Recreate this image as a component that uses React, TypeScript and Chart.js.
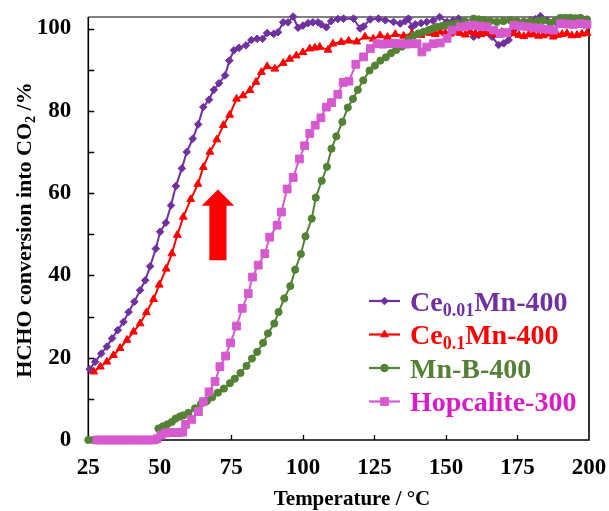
import React, { useEffect, useRef } from 'react';
import { Chart, registerables } from 'chart.js';
import { drawPoint } from 'chart.js/helpers';

Chart.register(...registerables);

// ---------------- data ----------------
const ce001T = [25.5,27.4,29.5,31.5,33.3,35.3,37.3,39.1,41.1,43.1, 44.9,46.6,48.6,50.1,52.1,53.9,55.6,57.7,59.4,61.5, 63.4,65.2,67.2,68.9,70.7,72.8,74.3,75.9,77.7,80.1, 82,84,85.9,87.5,89.8,91.3,93.1,94.8,96.6,98.3, 100,101.8,103.5,105.3,106.4,108.2,109.9,112.2,114.2,117.7, 120,121.2,123.5,126.4,128.8,131.7,134,135.8,136.9,138.1, 139.3,141.3,143.3,145.5,147.8,150.4,152.4,154.4,156.2,159.7, 161.5,163.2,166.1,168.4,170.2,171.9,173.7,176.6,179.5,181.3, 183,185.3,188.8,192.3,195.8,199.3];
const ce001V = [17.2,19,21,22.7,24.7,26.7,28.7,31.1,33.6,36.4, 38.8,42.2,46.5,50.6,52.8,57,61.7,66,70,73.2, 76.7,80.9,82.7,85.1,86.7,88.6,92.2,94.7,95.3,95.9, 97.2,97.5,97.5,98.9,98.7,99.1,101.5,101.5,102.9,100.2, 100.7,101.3,101.5,101.5,101,100.3,101.8,102.3,102.4,102.4, 100,100.5,102.2,102.4,102,101.6,101.2,101.8,102.4,100.4, 101,101.3,101.6,101.9,102.8,101.6,101.9,102.4,100.8,98, 98.4,98.8,98,96,96.4,97.2,99.6,100.8,102,102.3, 103,102,101.2,101,101.2,100.8];

const ce01T = [26.9,29.2,31.5,33.8,36.1,38.5,40.8,43.1,45.3,47.8, 49.8,52.2,54.2,56.1,58.2,60.8,63.3,65.2,67.5,69.9, 72.2,74.4,76.8,79.1,81.5,83.6,85.5,87.5,90.2,93.1, 95.4,97.7,100,102.4,104.2,105.9,108.8,110.5,113.4,116, 118.8,121.7,124.6,127,129.6,132.3,135.2,138.1,141.3,144.5, 146.3,148,149.8,151.5,153.3,155,156.8,158.5,160.3,162, 163.8,165.5,167.5,169.5,171.6,173.7,175.5,177.2,178.9,180.6, 182.3,184,185.8,187.5,189,190.6,192.3,194,195.8,197.5, 199.3];
const ce01V = [16.6,17.8,19,20.6,22.3,24.3,26.3,28.3,31,34.2, 37.7,41.6,45.3,49.8,54.2,58.5,62.2,66.3,70,73, 76.5,79,82.9,83.7,85,87,89.4,90.8,90.2,91.6, 92.6,93.4,94.2,95.1,95.3,95.5,94.8,96.3,96.7,97, 96.8,98,97.5,98.3,97.9,98.6,98.2,98.8,98.4,98.9, 98.6,99.2,98.9,98.7,99.1,98.9,98.5,99.2,98.8,98.6, 99,98.8,98.5,99.1,98.6,98.8,98.4,98.1,98.5,98.6, 98.2,98.3,98.7,98,98.4,98.6,98.8,98.3,98.4,98.7, 98.9];

const mnbT = [25,26.7,28.4,30.1,31.8,33.5,35.2,36.9,38.6,40.3, 42,43.7,45.4,47.1,48.8,49.5,51,52.6,54.2,55.5, 57,58.2,60,62.3,64.4,66.5,68.3,70.3,72.4,74.5, 76.2,78.2,80.3,82.2,84,86.1,87.8,90,91.5,93.5, 95.6,97.3,99.3,100.9,103.1,104.5,106.6,108.4,110,111.7, 113.8,115.7,117.5,119.2,121.1,123.3,125.2,127.1,129,130.8, 132.6,134.6,136.9,138.7,140.4,142.2,143.9,145.4,146.8,148.6, 150.4,152.1,153.8,156.5,159.7,161.5,163.2,165.5,167.8,170.1, 172.5,174.8,177.2,179.5,181.9,184,186.5,188.3,190,191.8, 193.5,195.3,197,199.3];
const mnbV = [0,0,0,0,0,0,0,0,0,0, 0,0,0,0,0,2.8,3.3,3.8,4.4,5.2, 5.7,6,6.6,7.7,8.8,9.5,10.4,11.5,12.5,13.8, 14.9,16.3,18,19.8,21.4,23.6,25.9,28.3,31.1,34.4, 37.4,41.4,45.2,49.5,53.8,58.9,63,66.4,70.8,73.8, 77.3,80.8,82.9,85.1,87.4,89.8,91,92.2,93,94, 94.8,95.6,97.4,98.3,98.8,99.2,99.6,100,100.4,100.6, 100.8,101,101.3,101.8,102.4,102.2,102,101.8,101.6,101.8, 102,101.8,101.6,101.7,101.8,102,101.4,101.9,102.6,102.6, 102.6,102.5,102.6,102.2];

const hopT = [28,29.5,31,32.5,34,35.5,37,38.5,40,41.5,43,44.5,46,47.5, 49,50.5,52,53.5,55,56.5,58,59, 61.1,63.5,65.2,67.2,69.3,71,73,74.7,76.8,78.8, 80.9,82.4,84.4,86.7,88.4,91,92.5,94.5,96.6,98.8, 100.6,102.4,104.3,106.3,108.2,110,112.2,114.1,116.1,118.5, 121.2,123.6,125.9,128,130,132,134,136,138,139.9, 141.6,143.3,145.6,148,150.4,152.1,155,157.4,159.7,162, 164.3,166.7,169,171.3,173.7,176,178.4,180.7,183,185.4, 187.7,190,192.3,194.6,197,199.3];
const hopV = [0,0,0,0,0,0,0,0,0,0,0,0,0,0, 0.3,1.2,1.7,1.8,1.8,1.8,1.9,3.8, 5,6.9,9.3,11.7,14.2,17.8,20.4,23.6,27.7,32, 35.6,39.6,42.5,45.3,49.3,52.2,55.4,61,63.8,68.3, 71.5,74.5,76.5,78.3,80.9,82,84,86.9,87.2,91.3, 93.1,95.1,96.3,96.2,96.3,96.4,96.3,96.2,96.3,96.3, 94.3,95.5,96.3,96.5,97.6,99.6,100.4,100.6,100.8,100.6, 100.4,99.6,98.8,99,100.8,100.6,100.4,100.2,100,99.8, 99.6,101.2,101.1,101,101.2,101];

const xTickValues = [25, 50, 75, 100, 125, 150, 175, 200];
const yTickValues = [0, 20, 40, 60, 80, 100];
const yMinorTickValues = [0, 10, 20, 30, 40, 50, 60, 70, 80, 90, 100];
const yMin = 0;
const yMax = 102.8;
const xMin = 25;
const xMax = 200;

// arrow in data units
const arrowX = 70.3;
const arrowTipY = 60.9;
const arrowHeadBaseY = 56.9;
const arrowBottomY = 43.7;
const arrowHeadHalf = 5.7;
const arrowBodyHalf = 3.0;

const xTitle = 'Temperature / °C';
const yTitleParts = [
  { t: 'HCHO conversion into CO', sub: false },
  { t: '2', sub: true },
  { t: ' /%', sub: false },
];

const legendEntries = [
  { parts: [{ t: 'Ce', sub: false }, { t: '0.01', sub: true }, { t: 'Mn-400', sub: false }], color: '#7030A0', text: '#7030A0', style: 'rectRot', radius: 3.8 },
  { parts: [{ t: 'Ce', sub: false }, { t: '0.1', sub: true }, { t: 'Mn-400', sub: false }], color: '#FF0000', text: '#FF0000', style: 'triangle', radius: 4.5 },
  { parts: [{ t: 'Mn-B-400', sub: false }], color: '#548235', text: '#548235', style: 'circle', radius: 3.8 },
  { parts: [{ t: 'Hopcalite-300', sub: false }], color: '#D65ACF', text: '#D81BC7', style: 'rect', radius: 5.5 },
];

const FONT = "'Liberation Serif', 'Times New Roman', serif";

function drawParts(ctx: CanvasRenderingContext2D, parts: { t: string; sub: boolean }[], x: number, y: number, size: number, subSize: number, subDrop: number, center: boolean) {
  const fMain = `bold ${size}px ${FONT}`;
  const fSub = `bold ${subSize}px ${FONT}`;
  let total = 0;
  for (const p of parts) {
    ctx.font = p.sub ? fSub : fMain;
    total += ctx.measureText(p.t).width;
  }
  let cx = center ? x - total / 2 : x;
  ctx.textAlign = 'left';
  ctx.textBaseline = 'alphabetic';
  for (const p of parts) {
    ctx.font = p.sub ? fSub : fMain;
    ctx.fillText(p.t, cx, p.sub ? y + subDrop : y);
    cx += ctx.measureText(p.t).width;
  }
}

const decorPlugin = {
  id: 'decor',
  beforeDatasetsDraw(chart: any) {
    const { ctx, chartArea: a, scales } = chart;
    const x = scales.x;
    const y = scales.y;
    ctx.save();
    ctx.strokeStyle = '#000';
    ctx.lineWidth = 1.3;
    ctx.beginPath();
    for (const v of yMinorTickValues) {
      const py = Math.round(y.getPixelForValue(v)) + 0.5;
      ctx.moveTo(a.left, py);
      ctx.lineTo(a.left + 6, py);
    }
    for (const v of xTickValues) {
      if (v === xMin || v === xMax) continue;
      const px = Math.round(x.getPixelForValue(v)) + 0.5;
      ctx.moveTo(px, a.bottom);
      ctx.lineTo(px, a.bottom - 5);
    }
    ctx.stroke();
    ctx.strokeStyle = '#7F7F7F';
    ctx.lineWidth = 2;
    ctx.beginPath();
    ctx.moveTo(a.left, a.top);
    ctx.lineTo(a.right, a.top);
    ctx.stroke();
    ctx.strokeStyle = '#000';
    ctx.lineWidth = 1.6;
    ctx.beginPath();
    ctx.moveTo(a.left, a.top);
    ctx.lineTo(a.left, a.bottom);
    ctx.lineTo(a.right, a.bottom);
    ctx.lineTo(a.right, a.top);
    ctx.stroke();
    ctx.restore();
  },
  afterDatasetsDraw(chart: any) {
    const { ctx, scales } = chart;
    const x = scales.x;
    const y = scales.y;
    ctx.save();
    const tipX = x.getPixelForValue(arrowX);
    const tipY = y.getPixelForValue(arrowTipY);
    const hb = y.getPixelForValue(arrowHeadBaseY);
    const bt = y.getPixelForValue(arrowBottomY);
    const hl = x.getPixelForValue(arrowX - arrowHeadHalf);
    const hr = x.getPixelForValue(arrowX + arrowHeadHalf);
    const bl = x.getPixelForValue(arrowX - arrowBodyHalf);
    const br = x.getPixelForValue(arrowX + arrowBodyHalf);
    ctx.fillStyle = '#FF0000';
    ctx.beginPath();
    ctx.moveTo(tipX, tipY);
    ctx.lineTo(hr, hb);
    ctx.lineTo(br, hb);
    ctx.lineTo(br, bt);
    ctx.lineTo(bl, bt);
    ctx.lineTo(bl, hb);
    ctx.lineTo(hl, hb);
    ctx.closePath();
    ctx.fill();

    legendEntries.forEach((e, i) => {
      const rowY = 301 + i * 33.5;
      ctx.strokeStyle = e.color;
      ctx.fillStyle = e.color;
      ctx.lineWidth = 2.2;
      ctx.beginPath();
      ctx.moveTo(369, rowY);
      ctx.lineTo(400, rowY);
      ctx.stroke();
      ctx.lineWidth = 1;
      drawPoint(ctx, { pointStyle: e.style as any, radius: e.radius, borderWidth: 1, rotation: 0 } as any, 384.5, rowY);
      ctx.fillStyle = e.text;
      drawParts(ctx, e.parts, 410, rowY + 9.5, 28, 18, 5, false);
    });

    ctx.fillStyle = '#000';
    ctx.save();
    ctx.translate(23, 230);
    ctx.rotate(-Math.PI / 2);
    drawParts(ctx, yTitleParts, 0, 7.5, 22, 14, 4, true);
    ctx.restore();

    ctx.fillStyle = '#000';
    drawParts(ctx, [{ t: xTitle, sub: false }], 352, 505, 21, 14, 0, true);
    ctx.restore();
  },
};

function makeData(t: number[], v: number[]) {
  return t.map((tt, i) => ({ x: tt, y: v[i] }));
}

function zeroPad(s: any) {
  s.paddingLeft = 0;
  s.paddingRight = 0;
  s.paddingTop = 0;
  s.paddingBottom = 0;
}

export default function App() {
  const ref = useRef<HTMLCanvasElement | null>(null);
  useEffect(() => {
    if (!ref.current) return;
    const chart = new Chart(ref.current, {
      type: 'line',
      data: {
        datasets: [
          { label: 'Ce0.01Mn-400', data: makeData(ce001T, ce001V), borderColor: '#7030A0', backgroundColor: '#7030A0', pointStyle: 'rectRot', pointRadius: 3.8, pointBorderWidth: 1, borderWidth: 2, order: 4, clip: 10 } as any,
          { label: 'Ce0.1Mn-400', data: makeData(ce01T, ce01V), borderColor: '#FF0000', backgroundColor: '#FF0000', pointStyle: 'triangle', pointRadius: 4.5, pointBorderWidth: 1, borderWidth: 2, order: 3, clip: 10 } as any,
          { label: 'Mn-B-400', data: makeData(mnbT, mnbV), borderColor: '#548235', backgroundColor: '#548235', pointStyle: 'circle', pointRadius: 3.6, pointBorderWidth: 1, borderWidth: 2, order: 2, clip: 10 } as any,
          { label: 'Hopcalite-300', data: makeData(hopT, hopV), borderColor: '#D65ACF', backgroundColor: '#D65ACF', pointStyle: 'rect', pointRadius: 5.5, pointBorderWidth: 1, borderWidth: 2, order: 1, clip: 10 } as any,
        ],
      },
      options: {
        animation: false,
        responsive: true,
        maintainAspectRatio: false,
        layout: { padding: { top: 17, right: 20, left: 0, bottom: 0 } },
        plugins: { legend: { display: false }, tooltip: { enabled: false } },
        elements: { line: { tension: 0 } },
        scales: {
          x: {
            type: 'linear',
            min: xMin,
            max: xMax,
            afterFit: (s: any) => { s.height = 71; zeroPad(s); },
            afterBuildTicks: (s: any) => { s.ticks = xTickValues.map((v) => ({ value: v })); },
            grid: { display: false, drawTicks: false },
            border: { display: false },
            ticks: { color: '#000', padding: 14, font: { family: FONT, size: 23, weight: 'bold' }, maxRotation: 0, autoSkip: false },
          },
          y: {
            type: 'linear',
            min: yMin,
            max: yMax,
            afterFit: (s: any) => { s.width = 88.3; zeroPad(s); },
            afterBuildTicks: (s: any) => { s.ticks = yTickValues.map((v) => ({ value: v })); },
            grid: { display: false, drawTicks: false },
            border: { display: false },
            ticks: { color: '#000', padding: 17, font: { family: FONT, size: 23, weight: 'bold' } },
          },
        },
      },
      plugins: [decorPlugin],
    } as any);
    return () => chart.destroy();
  }, []);
  return (
    <div style={{ position: 'fixed', left: 0, top: 0, width: 609, height: 511, background: '#fff' }}>
      <canvas ref={ref} />
    </div>
  );
}
